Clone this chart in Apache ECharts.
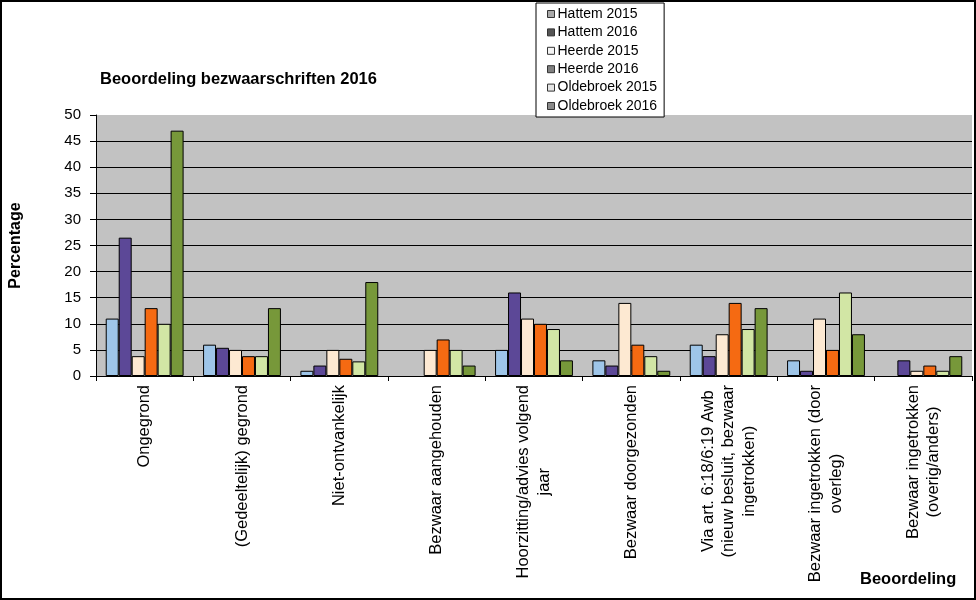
<!DOCTYPE html>
<html>
<head>
<meta charset="utf-8">
<script src="https://cdn.jsdelivr.net/npm/echarts@6/dist/echarts.min.js"></script>
<style>
html,body{margin:0;padding:0;background:#fff;}
#main{width:976px;height:600px;}
</style>
</head>
<body>
<div id="main"></div>
<script>
var categories = [
  'Ongegrond',
  '(Gedeeltelijk) gegrond',
  'Niet-ontvankelijk',
  'Bezwaar aangehouden',
  'Hoorzitting/advies volgend\njaar',
  'Bezwaar doorgezonden',
  'Via art. 6:18/6:19 Awb\n(nieuw besluit, bezwaar\ningetrokken)',
  'Bezwaar ingetrokken (door\noverleg)',
  'Bezwaar ingetrokken\n(overig/anders)'
];
var seriesNames = ['Hattem 2015','Hattem 2016','Heerde 2015','Heerde 2016','Oldebroek 2015','Oldebroek 2016'];
var hattem2015    = [11,   6,   1,   0, 5,  3,   6,   3,  0];
var hattem2016    = [26.5, 5.4, 2,   0, 16, 2,   3.8, 1,  3];
var heerde2015    = [3.8,  5,   5,   5, 11, 14,  8,   11, 1];
var heerde2016    = [13,   3.8, 3.3, 7, 10, 6,   14,  5,  2];
var oldebroek2015 = [10,   3.8, 2.8, 5, 9,  3.8, 9,   16, 1];
var oldebroek2016 = [47,   13,  18,  2, 3,  1,   13,  8,  3.8];
var yTicks = [0,5,10,15,20,25,30,35,40,45,50];

var seriesData = [hattem2015, hattem2016, heerde2015, heerde2016, oldebroek2015, oldebroek2016];
var barColors = ['#9ec5e8','#5c4897','#fde9d2','#f56a12','#d2e6a5','#77983a'];
var legendColors = ['#a8a8a8','#555555','#f4f4f4','#808080','#e4e4e4','#8a8a8a'];
var FONT = 'Arial, "Liberation Sans", sans-serif';

var chart = echarts.init(document.getElementById('main'), null, {renderer:'canvas'});
var option = {
  backgroundColor: '#ffffff',
  animation: false,
  title: [
    {text:'Beoordeling bezwaarschriften 2016', left:95, top:66,
     textStyle:{fontFamily:FONT, fontSize:16.5, fontWeight:'bold', color:'#000'}},
    {text:'Beoordeling', left:855, top:566,
     textStyle:{fontFamily:FONT, fontSize:16.5, fontWeight:'bold', color:'#000'}}
  ],
  legend: {
    orient:'vertical', left:536, top:3,
    backgroundColor:'#ffffff', borderColor:'#000', borderWidth:1,
    padding:[3,7,3,11], itemGap:2.4, itemWidth:7, itemHeight:7,
    icon:'rect',
    textStyle:{fontFamily:FONT, fontSize:14, color:'#000', lineHeight:16, padding:[0,0,0,-2]},
    data: seriesNames.map(function(n,i){return {name:n, itemStyle:{color:legendColors[i], borderColor:'#333', borderWidth:1}};})
  },
  grid: {left:96, right:4, top:115, bottom:224, show:true, backgroundColor:'#c2c2c2', borderWidth:0},
  xAxis: {
    type:'category', data:categories,
    axisLine:{show:true, lineStyle:{color:'#000', width:1}},
    axisTick:{show:true, length:5, lineStyle:{color:'#000'}},
    axisLabel:{
      interval:0, rotate:90, margin:9, color:'#000',
      fontFamily:FONT, fontSize:16.5, lineHeight:20.5,
      formatter:function(v){return v.split('\n').map(function(l){return '{c|'+l+'}';}).join('\n');},
      rich:{c:{fontFamily:FONT, fontSize:16.5, lineHeight:20.5, color:'#000', align:'center'}}
    },
    splitLine:{show:false}
  },
  yAxis: {
    type:'value', min:yTicks[0], max:yTicks[yTicks.length-1], interval:yTicks[1]-yTicks[0],
    name:'Percentage', nameLocation:'middle', nameGap:72,
    nameTextStyle:{fontFamily:FONT, fontSize:16, fontWeight:'bold', color:'#000'},
    axisLine:{show:true, lineStyle:{color:'#000', width:1}},
    axisTick:{show:true, length:6, lineStyle:{color:'#000'}},
    axisLabel:{fontFamily:FONT, fontSize:15, color:'#000', margin:15},
    splitLine:{show:true, showMaxLine:false, lineStyle:{color:'#000', width:1}}
  },
  series: seriesNames.map(function(n,i){
    return {
      name:n, type:'bar',
      data:seriesData[i].map(function(v){ return v === 0 ? {value:0, itemStyle:{borderWidth:0}} : v; }),
      barGap:'0%', barCategoryGap:'20%',
      itemStyle:{color:barColors[i], borderColor:'#000', borderWidth:1}
    };
  }),
  graphic: [{
    type:'rect', silent:true, z:100,
    shape:{x:1, y:1, width:974, height:598},
    style:{fill:null, stroke:'#000', lineWidth:2}
  }]
};
chart.setOption(option);
</script>
</body>
</html>
